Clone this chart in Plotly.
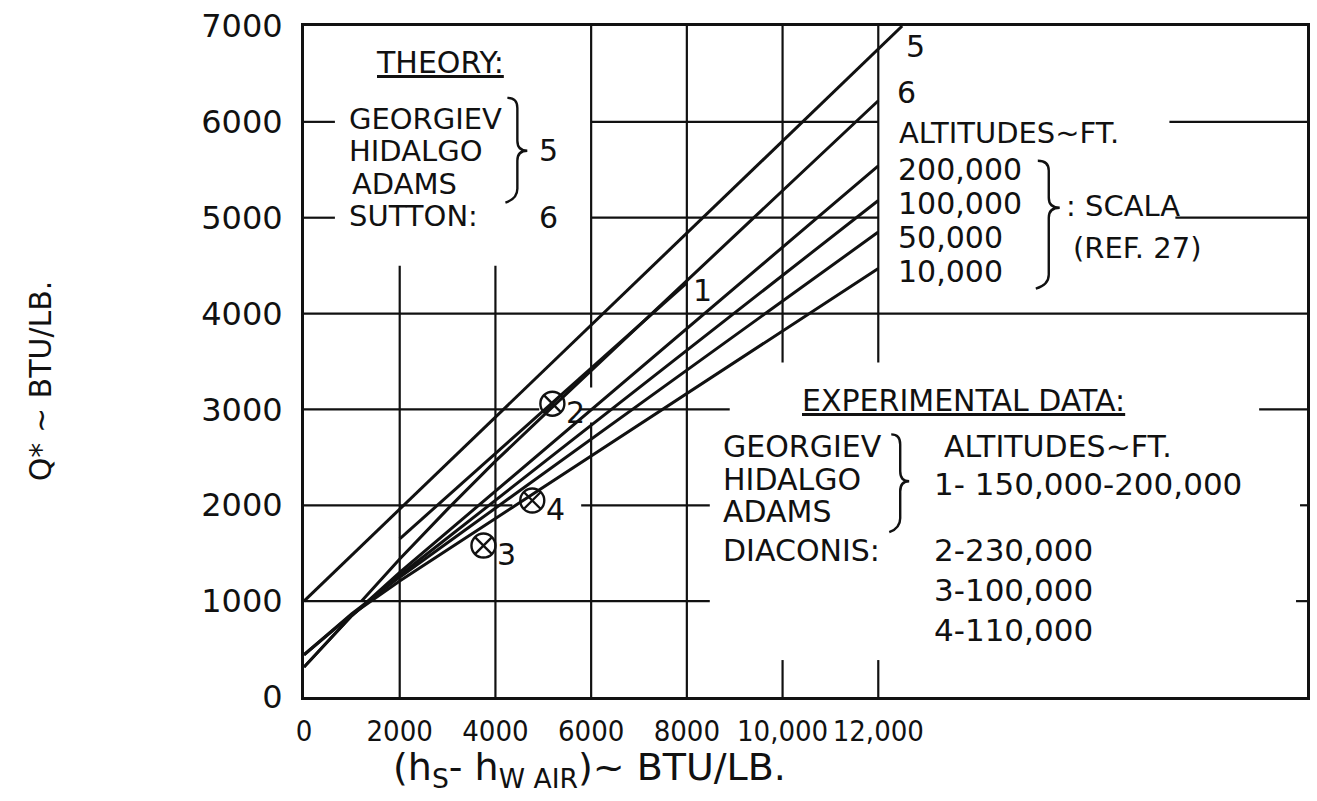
import plotly.graph_objects as go

# ---------------- data ----------------
# Theory, Georgiev/Hidalgo/Adams (curve 5)
theory5_x = [0, 12500]
theory5_y = [1000, 7000]
# Theory, Sutton (curve 6)
theory6_x = [1200, 2000, 3000, 4000, 5200, 8000, 12000]
theory6_y = [1000, 1440, 1960, 2460, 3030, 4340, 6220]
# Experimental correlation, Georgiev/Hidalgo/Adams 150,000-200,000 ft (curve 1)
exp1_x = [2000, 8000]
exp1_y = [1650, 4320]
# Scala (Ref. 27), altitudes in ft
scala_x = [0, 1000, 2000, 12000]
scala_200k = [312, 850, 1300, 5540]
scala_100k = [312, 850, 1270, 5180]
scala_50k = [440, 870, 1250, 4850]
scala_10k = [440, 860, 1210, 4470]
# Diaconis experimental points
diaconis_labels = ["2", "3", "4"]
diaconis_x = [5190, 3750, 4770]
diaconis_y = [3060, 1580, 2050]

x_tickvals = [0, 2000, 4000, 6000, 8000, 10000, 12000]
x_ticktext = ["0", "2000", "4000", "6000", "8000", "10,000", "12,000"]
y_tickvals = [0, 1000, 2000, 3000, 4000, 5000, 6000, 7000]
y_ticktext = ["0", "1000", "2000", "3000", "4000", "5000", "6000", "7000"]

# ---------------- geometry ----------------
W, H = 1317, 801
L, R, T, B = 304, 1310, 25, 697
XMAX = (R - L) / 0.048
YMAX = 7000

def xd(px):
    return (px - L) / (R - L) * XMAX

def yd(py):
    return (B - py) / (B - T) * YMAX

def pp(px, py):
    return (px - L) / (R - L), (B - py) / (B - T)

BLACK = "#111111"
FONT = "DejaVu Sans"

fig = go.Figure()

line_style = dict(color=BLACK, width=3)
for xs, ys in [(theory5_x, theory5_y), (theory6_x, theory6_y), (exp1_x, exp1_y),
               (scala_x, scala_200k), (scala_x, scala_100k),
               (scala_x, scala_50k), (scala_x, scala_10k)]:
    fig.add_trace(go.Scatter(x=xs, y=ys, mode="lines", line=line_style,
                             showlegend=False, hoverinfo="skip"))

fig.add_trace(go.Scatter(x=diaconis_x, y=diaconis_y, mode="markers",
                         marker=dict(symbol="circle-x-open", size=24,
                                     color=BLACK, line=dict(width=2.4, color=BLACK)),
                         showlegend=False, hoverinfo="skip"))

# ---------------- partial grid (as drawn in the original) ----------------
hseg = [
    (6000, 0, xd(335)), (6000, 6000, 12000), (6000, xd(1172), XMAX),
    (5000, 0, xd(335)), (5000, 6000, 12000), (5000, xd(1178), XMAX),
    (4000, 0, XMAX),
    (3000, 0, xd(540)), (3000, xd(580), xd(731)), (3000, xd(1262), XMAX),
    (2000, 0, xd(513)), (2000, xd(582), xd(711)), (2000, xd(1303), XMAX),
    (1000, 0, xd(711)), (1000, xd(1299), XMAX),
]
vseg = [
    (2000, 0, yd(265)), (4000, 0, yd(265)),
    (6000, 0, yd(422)), (6000, yd(387), YMAX),
    (8000, 0, YMAX),
    (10000, 0, yd(660)), (10000, yd(362), YMAX),
    (12000, 0, yd(660)), (12000, yd(362), YMAX),
]
shapes = []
for y, x0, x1 in hseg:
    shapes.append(dict(type="line", xref="x", yref="y", x0=x0, x1=x1, y0=y, y1=y,
                       line=dict(color=BLACK, width=2.2), layer="below"))
for x, y0, y1 in vseg:
    shapes.append(dict(type="line", xref="x", yref="y", x0=x, x1=x, y0=y0, y1=y1,
                       line=dict(color=BLACK, width=2.2), layer="below"))

def brace(x, top, bottom, tip, w):
    r = 10
    def P(a, b):
        u, v = pp(a, b)
        return f"{u:.5f},{v:.5f}"
    m = x + w * 0.5
    path = (f"M {P(x, top)} Q {P(m, top)} {P(m, top + r)} "
            f"L {P(m, tip - r)} Q {P(m, tip)} {P(x + w, tip)} "
            f"Q {P(m, tip)} {P(m, tip + r)} L {P(m, bottom - r)} "
            f"Q {P(m, bottom)} {P(x - 2, bottom + 4)}")
    return dict(type="path", xref="paper", yref="paper", path=path,
                line=dict(color=BLACK, width=2.4))

shapes += [brace(508, 97, 198, 150, 20),
           brace(1040, 160, 284, 207, 22),
           brace(893, 434, 528, 481, 18)]

# ---------------- text ----------------
ann = []
def txt(s, px, py, size=29, anchor="left", angle=0):
    u, v = pp(px, py)
    ann.append(dict(text=s, x=u, y=v, xref="paper", yref="paper", xanchor=anchor,
                    yanchor="middle", showarrow=False, textangle=angle,
                    font=dict(family=FONT, size=size, color=BLACK)))

txt("<u>THEORY:</u>", 440, 62, 30, "center")
txt("GEORGIEV", 347, 118)
txt("HIDALGO", 347, 150)
txt("ADAMS", 350, 183)
txt("SUTTON:", 347, 215)
txt("5", 538, 150, 30)
txt("6", 538, 217, 30)

txt("ALTITUDES~FT.", 899, 132)
txt("200,000", 898, 169, 30)
txt("100,000", 898, 203, 30)
txt("50,000", 898, 237, 30)
txt("10,000", 898, 271, 30)
txt(": SCALA", 1066, 205, 29)
txt("(REF. 27)", 1073, 247, 29)

txt("<u>EXPERIMENTAL DATA:</u>", 965, 400, 30, "center")
txt("GEORGIEV", 722, 446, 30)
txt("HIDALGO", 722, 479, 30)
txt("ADAMS", 722, 511, 30)
txt("DIACONIS:", 722, 550, 30)
txt("ALTITUDES~FT.", 944, 446, 30)
txt("1- 150,000-200,000", 934, 484, 31)
txt("2-230,000", 934, 550, 31)
txt("3-100,000", 934, 590, 31)
txt("4-110,000", 934, 630, 31)

# curve / point labels tied to the data
def dlabel(s, x, y, dx, dy):
    ann.append(dict(text=s, x=x, y=y, xref="x", yref="y", xshift=dx, yshift=dy,
                    showarrow=False, font=dict(family=FONT, size=30, color=BLACK)))

dlabel("5", theory5_x[-1], theory5_y[-1], 13, -20)
dlabel("6", theory6_x[-1], theory6_y[-1], 28, 8)
dlabel("1", exp1_x[-1], exp1_y[-1], 16, -8)
for s, x, y in zip(diaconis_labels, diaconis_x, diaconis_y):
    dlabel(s, x, y, 23, -9)

# axis titles
txt("Q* ~ BTU/LB.", 40, 380, 30, "center", -90)
txt("(h<sub>S</sub>- h<sub>W AIR</sub>)~ BTU/LB.", 590, 770, 38, "center")

fig.update_layout(
    width=W, height=H,
    margin=dict(l=L, r=W - R, t=T, b=H - B),
    paper_bgcolor="white", plot_bgcolor="white",
    shapes=shapes, annotations=ann,
    xaxis=dict(range=[0, XMAX], showgrid=False, zeroline=False, showline=True,
               mirror=True, linecolor=BLACK, linewidth=2.8, ticks="",
               tickvals=x_tickvals, ticktext=x_ticktext, ticklabelstandoff=6,
               tickangle=0,
               tickfont=dict(family="DejaVu Sans Condensed", size=29, color=BLACK)),
    yaxis=dict(range=[0, YMAX], showgrid=False, zeroline=False, showline=True,
               mirror=True, linecolor=BLACK, linewidth=2.8, ticks="",
               tickvals=y_tickvals, ticktext=y_ticktext, ticklabelstandoff=12,
               tickfont=dict(family=FONT, size=32, color=BLACK)),
)

fig.write_html("out.html")
